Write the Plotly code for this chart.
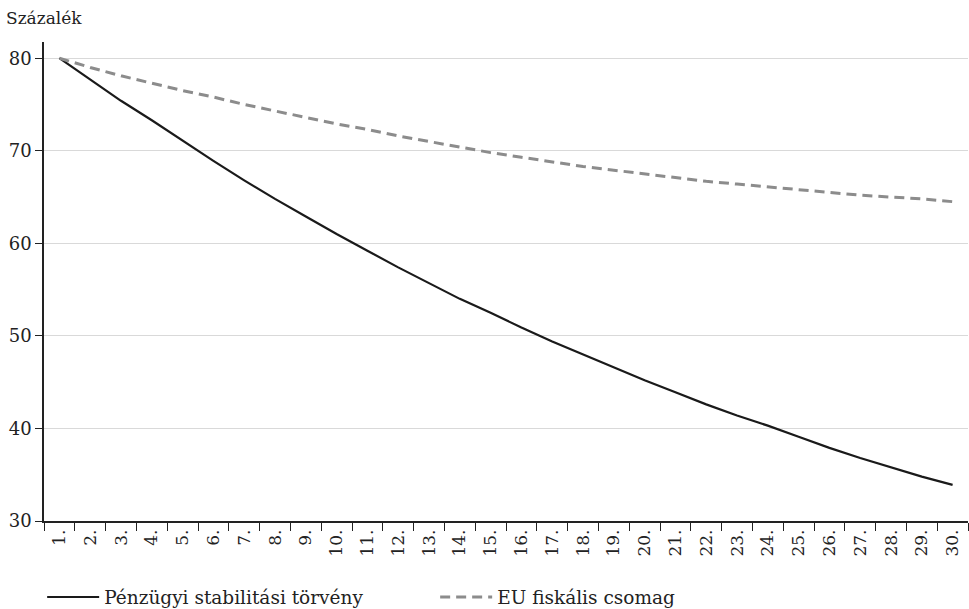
import plotly.graph_objects as go

categories = [f"{i}." for i in range(1, 31)]
penzugyi = [80.0, 77.7, 75.4, 73.3, 71.1, 68.9, 66.8, 64.8, 62.9, 61.0,
            59.2, 57.4, 55.7, 54.0, 52.5, 50.9, 49.4, 48.0, 46.6, 45.2,
            43.9, 42.6, 41.4, 40.3, 39.1, 37.9, 36.8, 35.8, 34.8, 33.9]
eu = [80.0, 79.0, 78.1, 77.3, 76.5, 75.8, 75.0, 74.3, 73.6, 72.9,
      72.3, 71.6, 71.0, 70.4, 69.8, 69.3, 68.8, 68.3, 67.9, 67.5,
      67.1, 66.7, 66.4, 66.1, 65.8, 65.5, 65.2, 65.0, 64.8, 64.5]
y_ticks = [30, 40, 50, 60, 70, 80]

FONT = "DejaVu Serif"
TXT = "#222222"

fig = go.Figure()
fig.add_trace(go.Scatter(x=categories, y=penzugyi, mode="lines",
                         name="Pénzügyi stabilitási törvény",
                         line=dict(color="#1a1a1a", width=2.2)))
fig.add_trace(go.Scatter(x=categories, y=eu, mode="lines",
                         name="EU fiskális csomag",
                         line=dict(color="#8c8c8c", width=3, dash="10px,6px")))

fig.update_layout(
    template="none",
    width=969, height=609,
    margin=dict(l=44, r=1, t=42, b=88, autoexpand=False),
    paper_bgcolor="white", plot_bgcolor="white",
    font=dict(family=FONT, size=18, color=TXT),
    showlegend=True,
    legend=dict(orientation="h", x=-0.002, xanchor="left", y=-0.12, yanchor="top",
                itemwidth=52, entrywidth=326, entrywidthmode="pixels",
                font=dict(family=FONT, size=18.5, color=TXT),
                bgcolor="rgba(0,0,0,0)"),
    xaxis=dict(type="category", range=[-0.5, 29.5], tickson="boundaries",
               ticks="outside", ticklen=8, tickcolor=TXT, automargin=False,
               showline=True, linecolor=TXT, linewidth=1.5,
               showgrid=False, tickangle=-90, zeroline=False,
               tickfont=dict(family=FONT, size=17, color=TXT)),
    yaxis=dict(range=[30, 81.75], tickvals=y_ticks, ticks="outside", ticklen=7,
               tickcolor=TXT, showline=True, linecolor=TXT, linewidth=1.5, automargin=False,
               showgrid=True, gridcolor="#d9d9d9", gridwidth=1, zeroline=False,
               tickfont=dict(family=FONT, size=18, color=TXT)),
    annotations=[dict(text="Százalék", xref="paper", yref="paper", x=0, y=1,
                      xshift=-40, yshift=12, xanchor="left", yanchor="bottom",
                      showarrow=False, font=dict(family=FONT, size=17, color=TXT))],
)

fig.write_html("out.html", config={"displayModeBar": False},
               post_script="document.body.style.margin='0';")
